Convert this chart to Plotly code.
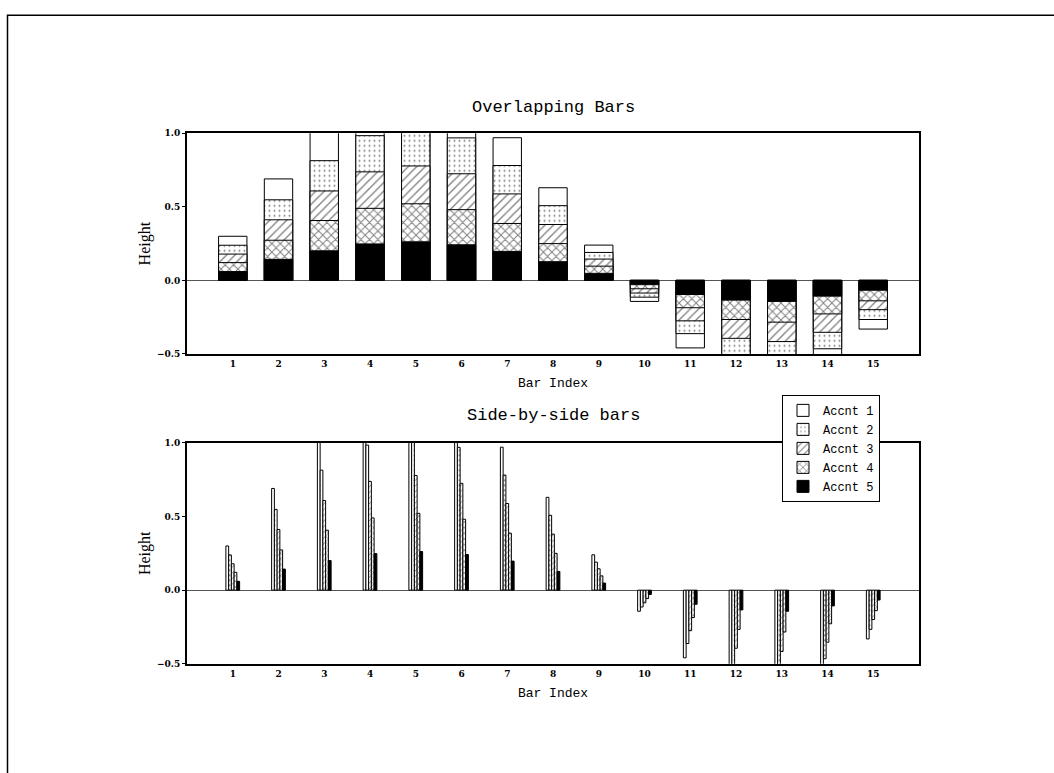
import plotly.graph_objects as go

categories = list(range(1, 16))
tick_labels = [str(c) for c in categories]

accent1 = [0.30, 0.69, 1.02, 1.23, 1.30, 1.21, 0.97, 0.63, 0.24, -0.143, -0.459, -0.66, -0.70, -0.58, -0.331]
accent2 = [0.239, 0.548, 0.814, 0.984, 1.04, 0.969, 0.781, 0.508, 0.19, -0.114, -0.362, -0.53, -0.56, -0.465, -0.266]
accent3 = [0.179, 0.412, 0.608, 0.738, 0.778, 0.725, 0.588, 0.38, 0.145, -0.086, -0.275, -0.394, -0.416, -0.353, -0.199]
accent4 = [0.121, 0.273, 0.407, 0.49, 0.521, 0.481, 0.387, 0.25, 0.097, -0.057, -0.186, -0.266, -0.284, -0.228, -0.139]
accent5 = [0.06, 0.143, 0.201, 0.248, 0.262, 0.242, 0.197, 0.127, 0.048, -0.029, -0.096, -0.134, -0.143, -0.107, -0.067]

series = [
    ("Accnt 1", accent1, ""),
    ("Accnt 2", accent2, "."),
    ("Accnt 3", accent3, "/"),
    ("Accnt 4", accent4, "x"),
    ("Accnt 5", accent5, "solid"),
]

W, H = 1054, 773
xl, xr = 187 / W, 919 / W
top_dom = [1 - 353.5 / H, 1 - 130 / H]
bot_dom = [1 - 667.5 / H, 1 - 443.5 / H]


def marker_for(shape, size):
    if shape == "solid":
        return dict(color="black", line=dict(color="black", width=1))
    if shape == "":
        return dict(color="white", line=dict(color="black", width=1))
    sol = {".": 0.12, "/": 0.22, "x": 0.3}[shape]
    sz = {".": 5, "/": size, "x": size}[shape]
    return dict(color="white", line=dict(color="black", width=1),
                pattern=dict(shape=shape, fgcolor="black", bgcolor="white",
                             size=sz, solidity=sol, fillmode="overlay"))


fig = go.Figure()
for name, vals, shape in series:
    fig.add_trace(go.Bar(x=categories, y=vals, name=name, width=0.62,
                         marker=marker_for(shape, 6), xaxis="x", yaxis="y",
                         legendgroup=name, showlegend=True))
bw = 0.06
for i, (name, vals, shape) in enumerate(series):
    fig.add_trace(go.Bar(x=categories, y=vals, name=name, width=bw,
                         offset=-0.15 + i * bw,
                         marker=marker_for(shape, 4), xaxis="x2", yaxis="y2",
                         legendgroup=name, showlegend=False))

tickfont = dict(family="DejaVu Serif", size=9, color="black", weight="bold")
title_font = dict(family="Liberation Mono", size=13, color="black")


def xaxis(anchor):
    return dict(domain=[xl, xr], range=[0, 16], anchor=anchor,
                tickmode="array", tickvals=categories, ticktext=tick_labels,
                tickfont=tickfont, ticks="", showgrid=False, zeroline=False,
                showline=True, linecolor="black", linewidth=2, mirror=True,
                title=dict(text="Bar Index", font=title_font, standoff=10))


def yaxis(anchor, dom):
    return dict(domain=dom, range=[-0.5, 1.0], anchor=anchor,
                tickmode="array", tickvals=[-0.5, 0, 0.5, 1.0],
                ticktext=["\u22120.5", "0.0", "0.5", "1.0"],
                tickfont=tickfont, ticks="outside", ticklen=3, tickcolor="black",
                showgrid=False, zeroline=True, zerolinecolor="#555", zerolinewidth=1,
                showline=True, linecolor="black", linewidth=2, mirror=True,
                title=dict(text="Height", font=dict(family="Liberation Serif", size=16, color="black"),
                           standoff=2))


fig.update_layout(
    width=W, height=H, autosize=False,
    margin=dict(l=0, r=0, t=0, b=0),
    paper_bgcolor="white", plot_bgcolor="white",
    barmode="overlay",
    xaxis=xaxis("y"), yaxis=yaxis("x", top_dom),
    xaxis2=xaxis("y2"), yaxis2=yaxis("x2", bot_dom),
    legend=dict(x=782 / W, y=1 - 395 / H, xanchor="left", yanchor="top",
                bgcolor="white", bordercolor="black", borderwidth=1,
                font=dict(family="Liberation Mono", size=12, color="black"),
                tracegroupgap=0, itemwidth=30),
    annotations=[
        dict(text="Overlapping Bars", x=(xl + xr) / 2, y=1 - 104 / H, xref="paper", yref="paper",
             showarrow=False, xanchor="center", yanchor="middle",
             font=dict(family="Liberation Mono", size=17, color="black")),
        dict(text="Side-by-side bars", x=(xl + xr) / 2, y=1 - 416 / H, xref="paper", yref="paper",
             showarrow=False, xanchor="center", yanchor="middle",
             font=dict(family="Liberation Mono", size=17, color="black")),
    ],
    shapes=[dict(type="rect", xref="paper", yref="paper", x0=7.5 / W, y0=-0.05, x1=1.05,
                 y1=1 - 10.5 / H, line=dict(color="black", width=1.5), layer="below")],
)

fig.write_html("out.html")
